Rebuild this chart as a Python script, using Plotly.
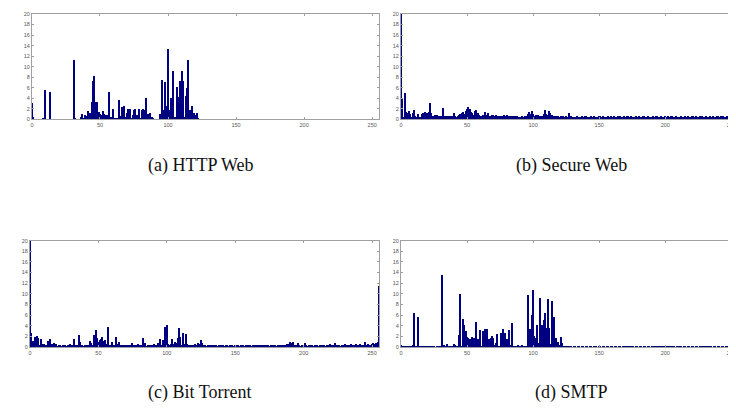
import plotly.graph_objects as go

bins = list(range(256))

http_web = [
    3.2, 0.4, 0.05, 0.05, 0.05, 0.05, 0.05, 0.05, 0.1, 0.1,
    5.5, 0.05, 0.05, 5.3, 0.03, 0.03, 0.03, 0.03, 0.03, 0.03,
    0.03, 0.03, 0.03, 0.03, 0.03, 0.03, 0.03, 0.03, 0.03, 0.03,
    0.03, 11.3, 0.3, 0.05, 0.05, 0.05, 0.4, 1.0, 0.3, 0.8,
    0.7, 1.6, 0.6, 1.3, 3.4, 7.2, 8.3, 3.3, 3.3, 1.5,
    1.0, 0.9, 1.6, 1.0, 0.9, 0.8, 0.6, 5.3, 0.5, 0.1,
    1.9, 0.1, 0.3, 0.1, 3.6, 0.6, 2.3, 0.6, 2.6, 0.5,
    1.3, 2.0, 1.9, 0.2, 0.8, 1.7, 2.0, 0.9, 0.8, 1.9,
    0.1, 1.8, 1.9, 1.8, 4.1, 1.0, 0.7, 1.3, 0.5, 0.2,
    0.05, 0.05, 0.05, 0.05, 1.0, 0.1, 7.4, 1.8, 7.1, 2.6,
    13.3, 1.8, 4.0, 3.0, 9.1, 0.5, 0.3, 6.2, 4.2, 7.2,
    9.1, 7.3, 0.5, 4.4, 6.0, 11.3, 1.8, 0.9, 2.6, 1.3,
    0.8, 1.2, 0.1,
    0.05, 0.03, 0.05, 0.03, 0.05, 0.03, 0.05, 0.03, 0.05, 0.03,
    0.05, 0.03, 0.05, 0.03, 0.05, 0.03, 0.05, 0.03, 0.05, 0.03,
    0.05, 0.03, 0.05, 0.03, 0.05, 0.03, 0.05, 0.03, 0.05, 0.03,
    0.05, 0.03, 0.05, 0.03, 0.05, 0.03, 0.05, 0.03, 0.05, 0.03,
    0.05, 0.03, 0.05, 0.03, 0.05, 0.03, 0.05, 0.03, 0.05, 0.03,
    0.05, 0.03, 0.05, 0.03, 0.05, 0.03, 0.05, 0.03, 0.05, 0.03,
    0.05, 0.03, 0.05, 0.03, 0.05, 0.03, 0.05, 0.03, 0.05, 0.03,
    0.05, 0.03, 0.05, 0.03, 0.05, 0.03, 0.05, 0.03, 0.05, 0.03,
    0.05, 0.03, 0.05, 0.03, 0.05, 0.03, 0.05, 0.03, 0.05, 0.03,
    0.05, 0.03, 0.05, 0.03, 0.05, 0.03, 0.05, 0.03, 0.05, 0.03,
    0.05, 0.03, 0.05, 0.03, 0.05, 0.03, 0.05, 0.03, 0.05, 0.03,
    0.05, 0.03, 0.05, 0.03, 0.05, 0.03, 0.05, 0.03, 0.05, 0.03,
    0.05, 0.03, 0.05, 0.03, 0.05, 0.03, 0.05, 0.03, 0.05, 0.03,
    0.05, 0.03, 0.05,
]

secure_web = [
    25, 3.9, 0.5, 5.1, 1.5, 1.2, 1.6, 1.0, 0.5, 1.3,
    1.7, 0.6, 0.4, 1.0, 0.5, 0.5, 1.0, 1.3, 1.4, 1.3,
    1.2, 1.4, 3.2, 1.3, 0.6, 0.7, 0.8, 0.9, 0.7, 0.6,
    0.6, 0.5, 2.1, 0.7, 0.7, 0.6, 0.7, 0.7, 0.5, 0.6,
    1.2, 0.6, 0.5, 0.6, 0.8, 1.1, 1.3, 1.5, 1.0, 1.6,
    2.0, 2.3, 1.9, 1.5, 1.2, 0.9, 1.6, 1.7, 1.2, 0.8,
    0.7, 0.6, 0.8, 0.9, 1.4, 0.8, 1.2, 0.7, 0.6, 0.8,
    0.9, 0.7, 0.8, 0.7, 0.6, 0.5, 0.7, 0.6, 0.8, 0.7,
    0.8, 0.6, 0.7, 0.6, 0.5, 0.7, 0.6, 0.5, 0.6, 0.5,
    0.4, 0.5, 0.6, 0.5, 0.6, 0.7, 1.1, 1.4, 1.1, 1.6,
    1.0, 0.6, 0.8, 0.7, 0.8, 0.6, 0.5, 0.7, 1.0, 1.7,
    1.1, 0.9, 1.6, 1.3, 0.8, 0.7, 0.6, 0.7, 0.5, 0.6,
    0.5, 0.6, 0.5, 0.6, 0.5, 0.6, 0.5, 1.2,
    0.5, 0.6, 0.5, 0.4, 0.5, 0.6, 0.5, 0.5, 0.4, 0.6,
    0.5, 0.6, 0.7, 0.5, 0.4, 0.5, 0.6, 0.5, 0.6, 0.5,
    0.4, 0.5, 0.6, 0.7, 0.5, 0.6, 0.5, 0.4, 0.5, 0.6,
    0.5, 0.7, 0.5, 0.6, 0.5, 0.5, 0.6, 0.7, 0.6, 0.5,
    0.5, 0.6, 0.5, 0.7, 0.6, 0.5, 0.6, 0.5, 0.4, 0.5,
    0.6, 0.5, 0.6, 0.5, 0.5, 0.6, 0.7, 0.5, 0.5, 0.6,
    0.5, 0.4, 0.5, 0.6, 0.5, 0.6, 0.7, 0.5, 0.5, 0.6,
    0.5, 0.5, 0.6, 0.5, 0.6, 0.5, 0.7, 0.6, 0.5, 0.5,
    0.6, 0.5, 0.4, 0.5, 0.6, 0.5, 0.5, 0.6, 0.5, 0.6,
    0.5, 0.5, 0.6, 0.7, 0.5, 0.6, 0.5, 0.5, 0.6, 0.5,
    0.6, 0.5, 0.5, 0.6, 0.5, 0.4, 0.6, 0.5, 0.6, 0.5,
    0.5, 0.6, 0.7, 0.5, 0.6, 0.5, 0.6, 0.5, 0.5, 0.7,
    0.6, 0.5, 0.6, 0.7, 0.5, 0.6, 0.6, 0.7,
]

bit_torrent = [
    25, 2.8, 1.3, 1.1, 2.0, 2.1, 1.8, 0.5, 1.5, 0.7,
    0.6, 0.5, 0.5, 1.2, 0.5, 1.5, 0.6, 0.3, 0.9, 0.7,
    0.2, 0.4, 0.4, 0.3, 0.4, 0.3, 0.4, 0.3, 0.4, 0.7,
    0.4, 0.5, 1.6, 0.5, 0.4, 0.5, 2.3, 1.0, 0.4, 0.3,
    0.4, 0.3, 0.4, 0.5, 1.2, 0.8, 0.5, 2.4, 3.2, 1.8,
    1.1, 1.4, 1.5, 2.0, 1.2, 1.4, 0.6, 3.8, 0.4, 0.5,
    1.1, 0.5, 0.4, 2.0, 0.6, 1.0, 0.5, 0.4, 0.5, 0.4,
    0.5, 0.4, 0.4, 0.5, 0.4, 0.9, 0.4, 0.5, 0.4, 0.6,
    0.4, 0.5, 0.4, 1.8, 0.9, 0.3, 0.4, 0.5, 0.4, 0.5,
    0.3, 0.6, 0.4, 0.5, 0.8, 1.5, 0.4, 1.4, 0.5, 3.8,
    4.2, 0.7, 0.5, 0.6, 1.6, 0.6, 1.1, 0.8, 1.8, 3.6,
    1.9, 0.4, 2.7, 0.7, 2.6, 0.6, 0.5, 0.4, 0.5, 0.4,
    0.5, 0.6, 0.5, 0.9, 0.6, 1.4, 0.8,
    0.4, 0.5, 0.3, 0.4, 0.5, 0.4, 0.3, 0.4, 0.5, 0.4,
    0.3, 0.4, 0.5, 0.4, 0.4, 0.3, 0.5, 0.4, 0.3, 0.4,
    0.5, 0.4, 0.3, 0.4, 0.4, 0.5, 0.3, 0.4, 0.5, 0.4,
    0.3, 0.4, 0.4, 0.5, 0.4, 0.3, 0.4, 0.5, 0.4, 0.3,
    0.4, 0.4, 0.5, 0.4, 0.3, 0.4, 0.5, 0.4, 0.3, 0.4,
    0.4, 0.5, 0.4, 0.3, 0.4, 0.5, 0.4, 0.4, 0.3, 0.4,
    0.5, 0.6, 0.7,
    1.1, 0.9, 1.1, 0.5, 0.4, 0.5, 0.8, 0.4, 0.3, 0.4, 0.4, 0.8,
    0.4, 0.3, 0.4, 0.5, 0.4, 0.3, 0.4, 0.4, 0.5, 0.3,
    0.4, 0.4, 0.5, 0.4, 0.3, 0.4, 0.5, 0.6, 0.5, 0.4, 0.5,
    0.9,
    0.4, 0.5, 0.4, 0.3, 0.4, 0.5, 0.6, 0.4, 0.5, 0.4, 0.5,
    0.7,
    0.4, 0.5, 0.6, 0.4, 0.5, 0.7, 0.5, 0.4, 0.5,
    1.0,
    0.5, 0.6, 0.4, 0.5, 0.6,
    0.9, 0.6, 0.9, 1.0, 11.5,
]

smtp = [
    0.5, 0.3, 0.3, 0.1, 0.1, 0.1, 0.1, 0.2, 0.3, 0.5,
    6.4, 0.1, 0.1, 5.7, 0.1, 0.1, 0.05, 0.1, 0.1, 0.05,
    0.1, 0.1, 0.05, 0.1, 0.1, 0.1, 0.05, 0.1, 0.1, 0.1,
    0.1, 13.6, 0.1, 0.5, 0.1, 0.6, 0.1, 0.1, 0.1, 0.1,
    0.6, 0.5, 0.3, 0.3, 2.3, 10.1, 0.2, 5.3, 4.3, 3.0,
    1.9, 1.7, 1.5, 1.4, 1.9, 1.8, 1.7, 4.7, 1.6, 0.3,
    3.2, 0.3, 3.1, 0.5, 3.4, 3.5, 0.4, 1.6, 1.8, 2.2,
    1.7, 0.4, 0.9, 2.5, 0.2, 0.3, 2.7, 3.4, 1.4, 2.8,
    1.6, 0.5, 3.2, 0.4, 4.5, 0.3, 0.3, 0.2, 0.2, 0.4,
    0.3, 0.2, 0.4, 0.3, 0.2, 0.1, 9.8, 2.7, 3.5, 6.1,
    10.7, 2.2, 1.8, 4.3, 0.8, 9.3, 0.6, 4.3, 5.1, 6.4,
    3.6, 9.1, 3.7, 0.7, 8.8, 4.9, 5.8, 1.8, 1.0, 1.0,
    0.4, 2.0, 0.8,
    0.1, 0.1, 0.05, 0.1, 0.1, 0.2, 0.1, 0.05, 0.1, 0.1,
    0.05, 0.1, 0.1, 0.05, 0.1, 0.1, 0.05, 0.1, 0.1, 0.05,
    0.1, 0.1, 0.05, 0.1, 0.2, 0.1, 0.05, 0.1, 0.1, 0.05,
    0.1, 0.1, 0.05, 0.1, 0.1, 0.05, 0.1, 0.1, 0.05, 0.1,
    0.1, 0.05, 0.1, 0.1, 0.05, 0.1, 0.2, 0.1, 0.05, 0.1,
    0.1, 0.05, 0.1, 0.1, 0.05, 0.1, 0.1, 0.05, 0.1, 0.1,
    0.05, 0.1, 0.1, 0.05, 0.1, 0.1, 0.05, 0.1, 0.2, 0.1,
    0.05, 0.1, 0.1, 0.05, 0.1, 0.1, 0.05, 0.1, 0.1, 0.05,
    0.1, 0.1, 0.05, 0.1, 0.1, 0.05, 0.1, 0.1, 0.2, 0.1,
    0.05, 0.1, 0.1, 0.05, 0.1, 0.1, 0.05, 0.1, 0.1, 0.05,
    0.1, 0.1, 0.05, 0.1, 0.1, 0.2, 0.1, 0.05, 0.1, 0.1,
    0.05, 0.1, 0.1, 0.05, 0.1, 0.1, 0.05, 0.1, 0.1, 0.05,
    0.1, 0.1, 0.05, 0.1, 0.1, 0.05, 0.1, 0.1, 0.05, 0.1,
    0.1, 0.05, 0.1,
]

captions = ["(a) HTTP Web", "(b) Secure Web", "(c) Bit Torrent", "(d) SMTP"]
x_ticks = [0, 50, 100, 150, 200, 250]
y_ticks = [0, 2, 4, 6, 8, 10, 12, 14, 16, 18, 20]

series = [http_web, secure_web, bit_torrent, smtp]
for s in series:
    assert len(s) == 256, len(s)

W, H = 736, 415
# pixel boxes: (left, right, top, bottom, xmax)
boxes = [
    (22, 370, 3, 110, 255),
    (392, 730, 3, 110, 255),
    (20, 370, 233, 341, 255),
    (392, 730, 233, 341, 255),
]
cap_pos = [(192, 157), (563, 157), (190, 387), (563, 387)]

fig = go.Figure()
for i, (vals, box) in enumerate(zip(series, boxes)):
    n = "" if i == 0 else str(i + 1)
    fig.add_trace(go.Bar(
        x=bins, y=vals, xaxis="x" + n, yaxis="y" + n,
        marker=dict(color="#000080", line=dict(width=0)),
        showlegend=False,
    ))
    l, r, t, b, xmax = box
    common = dict(
        showline=True, linecolor="#a0a0a0", linewidth=1, mirror="ticks",
        ticks="inside", ticklen=2, tickcolor="#a0a0a0",
        showgrid=False, zeroline=False, ticklabeloverflow="allow",
        tickfont=dict(family="Liberation Sans", size=5.5, color="#555555"),
    )
    fig.layout["xaxis" + n] = dict(
        domain=[l / W, r / W], range=[0, xmax], tickvals=x_ticks,
        anchor="y" + n, **common)
    fig.layout["yaxis" + n] = dict(
        domain=[1 - b / H, 1 - t / H], range=[0, 20], tickvals=y_ticks,
        anchor="x" + n, **common)

for text, (cx, cy) in zip(captions, cap_pos):
    fig.add_annotation(
        text=text, x=cx / W, y=1 - cy / H, xref="paper", yref="paper",
        showarrow=False, xanchor="center", yanchor="middle",
        font=dict(family="Liberation Serif", size=18, color="#111111"))

fig.update_layout(
    width=W, height=H, margin=dict(l=0, r=0, t=0, b=0),
    paper_bgcolor="white", plot_bgcolor="white",
    bargap=0,
)
fig.write_html("out.html")
